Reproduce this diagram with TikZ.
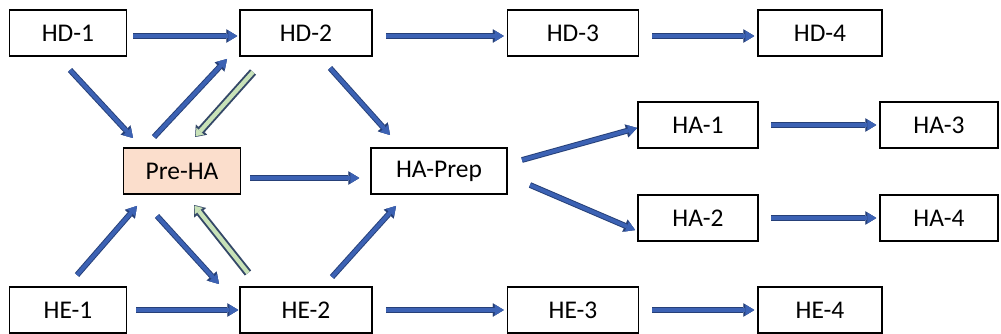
\documentclass[tikz,border=0pt]{standalone}
\usepackage{fontspec}
\setmainfont{Carlito}
\usetikzlibrary{arrows.meta}
\definecolor{arrowblue}{RGB}{60,98,180}
\definecolor{arrowline}{RGB}{38,64,120}
\definecolor{backgreen}{RGB}{200,226,184}
\definecolor{backline}{RGB}{52,72,104}
\definecolor{prefill}{RGB}{251,222,204}
\begin{document}
\begin{tikzpicture}[x=0.02cm, y=-0.02cm,
    stage/.style={rectangle, draw, line width=0.9pt, minimum height=0.92cm,
    inner sep=0pt, font=\fontsize{14.5}{17}\selectfont},
    flow/.style={line width=2.2pt, draw=arrowblue,
    -{Triangle[length=5pt,width=6pt,line width=0.01pt,color=arrowblue,fill=arrowblue]},
    preaction={draw=arrowline, line width=3.3pt,
    -{Triangle[length=6.2pt,width=7.6pt,line width=0.01pt,color=arrowline,fill=arrowline]}}},
    back/.style={line width=2.4pt, draw=backgreen, shorten >=0.6pt,
    -{Triangle[length=3.8pt,width=5.6pt,line width=0.01pt,color=backgreen,fill=backgreen]},
    preaction={draw=backline, line width=4.6pt, shorten >=0pt,
    -{Triangle[length=5.6pt,width=8.6pt,line width=0.01pt,color=backline,fill=backline]}}}
    ]
    \useasboundingbox (0,0) rectangle (1001,334);

    \node[stage, minimum width=2.34cm] (HD1) at (68,33) {HD-1};
    \node[stage, minimum width=2.64cm] (HD2) at (306,33) {HD-2};
    \node[stage, minimum width=2.62cm] (HD3) at (573,33) {HD-3};
    \node[stage, minimum width=2.48cm] (HD4) at (820,33) {HD-4};
    \node[stage, minimum width=2.34cm, fill=prefill] (PreHA) at (182,171) {Pre-HA};
    \node[stage, minimum width=2.72cm] (HAPrep) at (439,171) {HA-Prep};
    \node[stage, minimum width=2.4cm] (HA1) at (698,125) {HA-1};
    \node[stage, minimum width=2.4cm] (HA2) at (698,218) {HA-2};
    \node[stage, minimum width=2.36cm] (HA3) at (939,125) {HA-3};
    \node[stage, minimum width=2.36cm] (HA4) at (939,218) {HA-4};
    \node[stage, minimum width=2.34cm] (HE1) at (68,310) {HE-1};
    \node[stage, minimum width=2.64cm] (HE2) at (306,310) {HE-2};
    \node[stage, minimum width=2.62cm] (HE3) at (573,310) {HE-3};
    \node[stage, minimum width=2.48cm] (HE4) at (820,310) {HE-4};

    \draw[flow] ([shift={(6,3)}]HD1.east) -- ([shift={(-2,3)}]HD2.west);
    \draw[flow] ([shift={(13,3)}]HD2.east) -- ([shift={(-3,3)}]HD3.west);
    \draw[flow] ([shift={(13,3)}]HD3.east) -- ([shift={(-3,3)}]HD4.west);
    \draw[flow] ([shift={(9,7)}]PreHA.east) -- ([shift={(-11,7)}]HAPrep.west);
    \draw[flow] ([shift={(12,0)}]HA1.east) -- ([shift={(-3,0)}]HA3.west);
    \draw[flow] ([shift={(12,0)}]HA2.east) -- ([shift={(-3,0)}]HA4.west);
    \draw[flow] ([shift={(9,0)}]HE1.east) -- ([shift={(-1,0)}]HE2.west);
    \draw[flow] ([shift={(13,0)}]HE2.east) -- ([shift={(-3,0)}]HE3.west);
    \draw[flow] ([shift={(13,0)}]HE3.east) -- ([shift={(-3,0)}]HE4.west);

    \draw[flow] ([shift={(2,37)}]HD1.center) -- ([shift={(-49,-33)}]PreHA.center);
    \draw[flow] ([shift={(-28,-34)}]PreHA.center) -- ([shift={(-79,26)}]HD2.center);
    \draw[back] ([shift={(-53,39)}]HD2.center) -- ([shift={(13,-34)}]PreHA.center);
    \draw[flow] ([shift={(24,35)}]HD2.center) -- ([shift={(-49,-36)}]HAPrep.center);
    \draw[flow] ([shift={(83,-11)}]HAPrep.center) -- ([shift={(-61,3)}]HA1.center);
    \draw[flow] ([shift={(91,14)}]HAPrep.center) -- ([shift={(-63,12)}]HA2.center);
    \draw[flow] ([shift={(9,-35)}]HE1.center) -- ([shift={(-45,35)}]PreHA.center);
    \draw[flow] ([shift={(-25,45)}]PreHA.center) -- ([shift={(-87,-26)}]HE2.center);
    \draw[back] ([shift={(-58,-37)}]HE2.center) -- ([shift={(12,34)}]PreHA.center);
    \draw[flow] ([shift={(26,-33)}]HE2.center) -- ([shift={(-43,35)}]HAPrep.center);
\end{tikzpicture}
\end{document}
